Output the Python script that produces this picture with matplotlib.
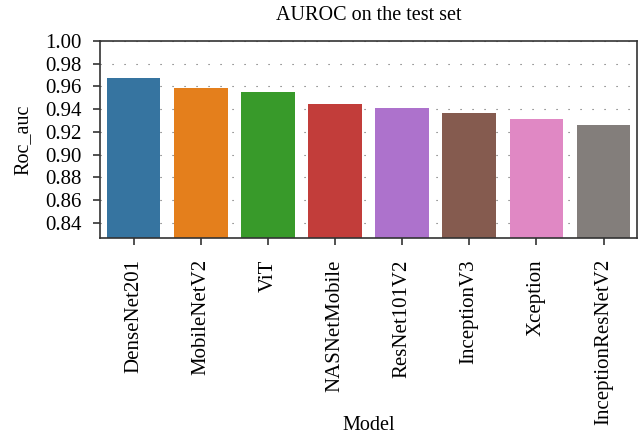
import matplotlib
matplotlib.use('Agg')
import matplotlib.pyplot as plt
import seaborn as sns
import pandas as pd

plt.rcParams['font.family'] = ['Liberation Serif', 'DejaVu Serif']

# data
models = ['DenseNet201', 'MobileNetV2', 'ViT', 'NASNetMobile', 'ResNet101V2',
          'InceptionV3', 'Xception', 'InceptionResNetV2']
roc_auc = [0.9677, 0.9589, 0.9553, 0.9448, 0.9412, 0.9368, 0.9315, 0.9263]
colors = ['#3674a0', '#e47f1c', '#389a2a', '#c23d3a', '#ad72cc', '#855b4f',
          '#e088c4', '#837e7b']

df = pd.DataFrame({'Model': models, 'Roc_auc': roc_auc})

fig = plt.figure(figsize=(6.39, 4.36), dpi=100)
ax = fig.add_axes([0.1565, 0.4534, 0.8405, 0.4526])

ax.set_axisbelow(True)
ax.yaxis.grid(True, color='#606060', linestyle=(0, (1, 9.8)), linewidth=0.8)
ax.xaxis.grid(False)

sns.barplot(data=df, x='Model', y='Roc_auc', hue='Model', palette=colors,
            saturation=1, width=0.8, legend=False, ax=ax)

ax.set_ylim(0.8263, 1.0)
ax.set_yticks([0.84, 0.86, 0.88, 0.90, 0.92, 0.94, 0.96, 0.98, 1.00])
ax.set_yticklabels(['%.2f' % v for v in ax.get_yticks()])
ax.set_xlim(-0.5, 7.5)

for s in ax.spines.values():
    s.set_color('#333333')
    s.set_linewidth(1.2)
ax.tick_params(axis='both', labelsize=15, direction='out', length=5,
               width=1.2, color='#333333')
ax.tick_params(axis='x', labelrotation=90, pad=10)
ax.tick_params(axis='y', pad=8)

ax.set_title('AUROC on the test set', fontsize=14.5, pad=15)
ax.set_xlabel('Model', fontsize=14.5)
ax.set_ylabel('Roc_auc', fontsize=14.5)
ax.xaxis.set_label_coords(0.5, -0.9)
ax.yaxis.set_label_coords(-0.125, 0.5)

fig.savefig('out.png', dpi=100)
